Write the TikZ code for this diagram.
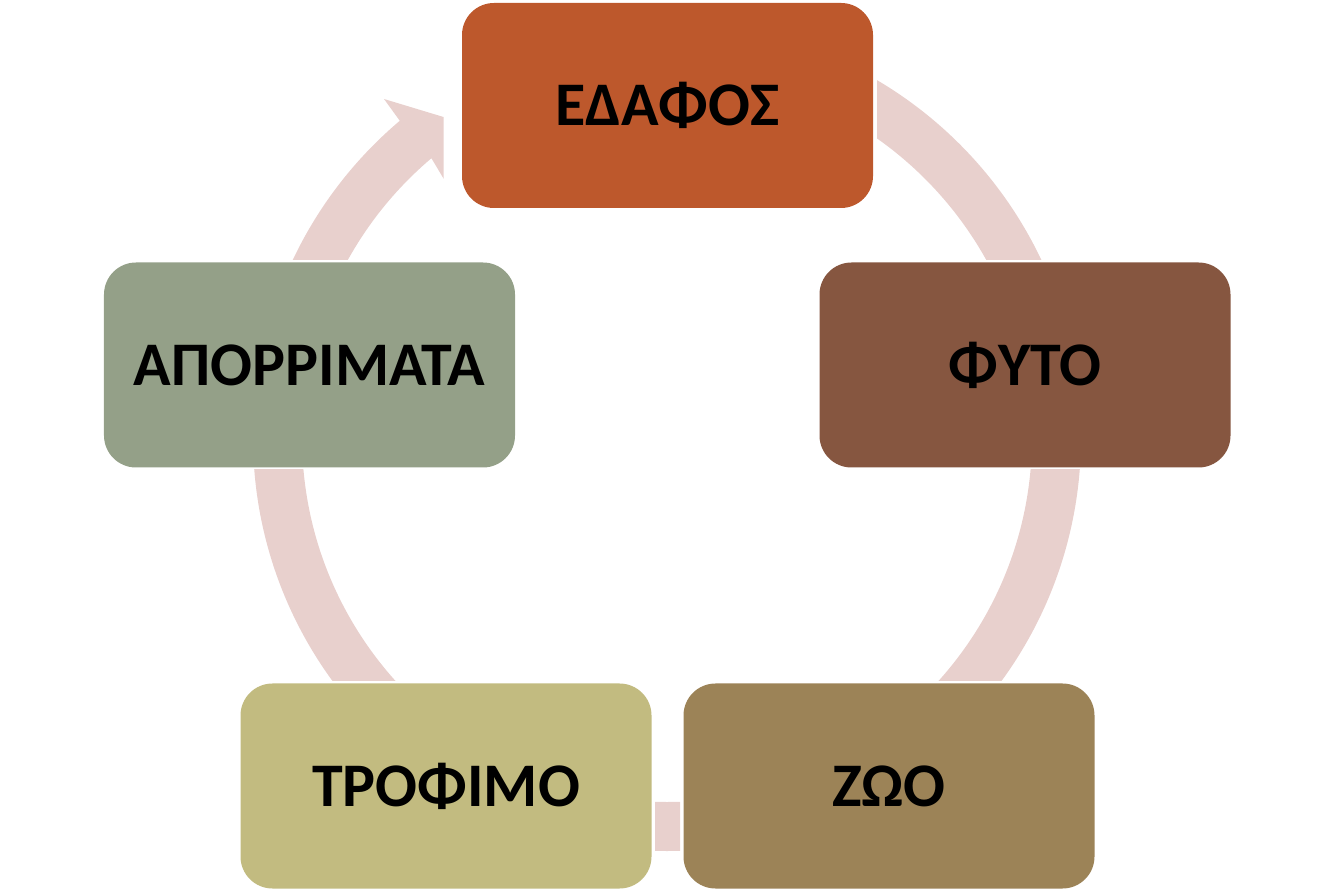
\documentclass[tikz,border=0pt]{standalone}
\usepackage{fontspec}
\setmainfont{Carlito}
\definecolor{cEdafos}{HTML}{BD582C}
\definecolor{cFyto}{HTML}{865640}
\definecolor{cZoo}{HTML}{9C8357}
\definecolor{cTrofimo}{HTML}{C2BB80}
\definecolor{cApor}{HTML}{94A088}
\definecolor{cBand}{HTML}{E8D0CD}
\begin{document}
\begin{tikzpicture}[x=1bp,y=1bp,
  box/.style={rectangle, rounded corners=32bp, minimum width=411bp, minimum height=205bp,
    inner sep=0pt, font=\fontsize{62bp}{66bp}\selectfont\bfseries, text=black},
  band/.style={fill=cBand, draw=none}]
\useasboundingbox (0,0) rectangle (1334,892);
\coordinate (c) at (667,455);
% bands
\begin{scope}
  \clip (877,632) rectangle (1334,892);
  \fill[band, even odd rule] (c) circle (414bp) (c) circle (365bp);
\end{scope}
\begin{scope}
  \clip (667,211) rectangle (1334,422);
  \fill[band, even odd rule] (c) circle (414bp) (c) circle (365bp);
\end{scope}
\begin{scope}
  \clip (655,0) rectangle (680,200);
  \fill[band, even odd rule] (c) circle (414bp) (c) circle (365bp);
\end{scope}
\begin{scope}
  \clip (0,211) rectangle (667,422);
  \fill[band, even odd rule] (c) circle (414bp) (c) circle (365bp);
\end{scope}
\begin{scope}
  \clip (0,632) rectangle (443.5,892);
  \fill[band] ([shift={(160:414bp)}]c) arc[start angle=160, end angle=130.2, radius=414bp]
    -- (384,793) -- (443.5,775) -- (445,711)
    -- ([shift={(130.2:365bp)}]c) arc[start angle=130.2, end angle=160, radius=365bp] -- cycle;
\end{scope}
% boxes
\node[box, fill=cEdafos] (edafos) at (667.5,786.5) {ΕΔΑΦΟΣ};
\node[box, fill=cFyto] (fyto) at (1025,527) {ΦΥΤΟ};
\node[box, fill=cZoo] (zoo) at (889,106) {ΖΩΟ};
\node[box, fill=cTrofimo] (trofimo) at (446,106) {ΤΡΟΦΙΜΟ};
\node[box, fill=cApor] (apor) at (309.5,527) {ΑΠΟΡΡΙΜΑΤΑ};
\end{tikzpicture}
\end{document}
